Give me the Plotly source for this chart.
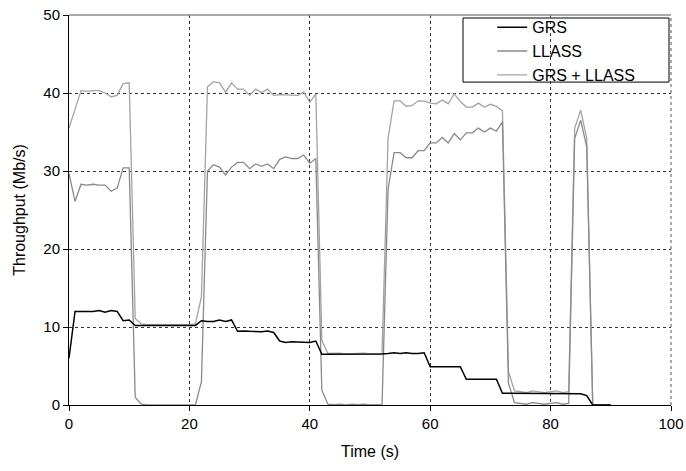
import plotly.graph_objects as go

time_s = list(range(0, 91))

grs = [6.0, 12.0, 12.0, 12.0, 12.0, 12.1, 11.9, 12.1, 12.0, 10.8, 10.9, 10.2,
       10.2, 10.2, 10.2, 10.2, 10.2, 10.2, 10.2, 10.2, 10.2,
       10.2, 10.8, 10.7, 10.7, 10.9, 10.7, 10.9, 9.45, 9.5, 9.45, 9.45, 9.4, 9.5, 9.3,
       8.2, 8.0, 8.1, 8.1, 8.05, 8.0, 8.2,
       6.5, 6.5, 6.55, 6.55, 6.5, 6.5, 6.55, 6.5, 6.5, 6.5, 6.55,
       6.6, 6.7, 6.6, 6.7, 6.6, 6.6, 6.7,
       4.9, 4.9, 4.9, 4.9, 4.9, 4.9,
       3.3, 3.3, 3.3, 3.3, 3.3, 3.3,
       1.5, 1.5, 1.5, 1.5, 1.5, 1.5, 1.5, 1.5, 1.5, 1.5, 1.5, 1.5, 1.5, 1.45,
       1.2, 0.0, 0.0, 0.0, 0.0]

llass = [29.7, 26.1, 28.3, 28.2, 28.3, 28.2, 28.2, 27.4, 27.8, 30.4, 30.4, 1.0, 0.1,
         0.0, 0.0, 0.0, 0.0, 0.0, 0.0, 0.0, 0.0, 0.0,
         3.0, 30.0, 30.8, 30.5, 29.5, 30.5, 31.1, 31.1, 30.3, 30.9, 30.6, 30.9, 30.3,
         31.5, 31.8, 31.6, 31.6, 32.05, 31.0, 31.6, 1.9,
         0.1, 0.05, 0.1, 0.0, 0.1, 0.05, 0.1, 0.0, 0.05, 0.0,
         27.6, 32.35, 32.35, 31.7, 31.7, 32.6, 32.6, 33.6, 33.6, 34.3, 33.6, 34.8, 34.0,
         34.9, 34.9, 35.5, 35.0, 35.5, 35.1, 36.3,
         2.8, 0.3,
         0.2, 0.1, 0.3, 0.2, 0.1, 0.2, 0.3, 0.1,
         0.2, 34.2, 36.5, 33.1,
         0.0, 0.0, 0.0, 0.0]

grs_llass = [35.5, 37.9, 40.3, 40.2, 40.3, 40.3, 40.0, 39.5, 39.7, 41.2, 41.3, 11.1, 10.4,
             10.3, 10.3, 10.3, 10.3, 10.3, 10.3, 10.3, 10.3,
             10.4, 13.9, 40.8, 41.45, 41.3, 40.1, 41.3, 40.5, 40.5, 39.7, 40.5, 40.05, 40.5,
             39.7, 39.8, 39.75, 39.7, 39.7, 40.1, 38.8, 39.9, 8.3,
             6.6, 6.6, 6.65, 6.55, 6.6, 6.6, 6.65, 6.55, 6.6, 6.6,
             34.2, 39.0, 39.0, 38.3, 38.4, 39.0, 38.95, 38.7, 38.6, 39.1, 38.6, 39.9, 38.9,
             38.2, 38.2, 38.7, 38.2, 38.55, 38.3, 37.7,
             4.3, 1.8,
             1.7, 1.6, 1.8, 1.7, 1.6, 1.7, 1.8, 1.6, 1.7,
             35.5, 37.8, 34.2,
             0.0, 0.0, 0.0, 0.0]

x_ticks = [0, 20, 40, 60, 80, 100]
y_ticks = [0, 10, 20, 30, 40, 50]

FONT = "Liberation Sans, Arial, sans-serif"

fig = go.Figure()
fig.add_trace(go.Scatter(x=time_s, y=grs_llass, mode="lines", name="GRS + LLASS",
                         line=dict(color="#a3a3a3", width=1.3)))
fig.add_trace(go.Scatter(x=time_s, y=llass, mode="lines", name="LLASS",
                         line=dict(color="#8a8a8a", width=1.3)))
fig.add_trace(go.Scatter(x=time_s, y=grs, mode="lines", name="GRS",
                         line=dict(color="#000000", width=1.5)))

fig.update_layout(
    width=686, height=471,
    margin=dict(l=69, r=15, t=15, b=66, autoexpand=False),
    paper_bgcolor="white", plot_bgcolor="white",
    font=dict(family=FONT, size=15, color="black"),
    showlegend=True,
    legend=dict(x=0.703, y=1.012, xanchor="left", yanchor="top",
                traceorder="reversed", bgcolor="rgba(0,0,0,0)",
                borderwidth=0, font=dict(size=16), tracegroupgap=0),
    xaxis=dict(range=[0, 100], tickvals=x_ticks, showline=True, linecolor="black",
               linewidth=1, ticks="outside", ticklen=5, tickcolor="black",
               showgrid=True, gridcolor="#333333", griddash="dot", gridwidth=1,
               zeroline=False, automargin=False,
               title=dict(text="Time (s)", standoff=14, font=dict(size=16))),
    yaxis=dict(range=[0, 50], tickvals=y_ticks, showline=True, linecolor="black",
               linewidth=1, ticks="outside", ticklen=5, tickcolor="black",
               showgrid=True, gridcolor="#333333", griddash="dot", gridwidth=1,
               zeroline=False, automargin=False,
               title=dict(text="Throughput (Mb/s)", standoff=13, font=dict(size=16))),
    shapes=[
        dict(type="line", xref="paper", yref="paper", x0=0, x1=1, y0=1, y1=1,
             line=dict(color="#8c8c8c", width=1.5)),
        dict(type="line", xref="paper", yref="paper", x0=1, x1=1, y0=0, y1=1,
             line=dict(color="#555555", width=1, dash="dot")),
        dict(type="rect", xref="paper", yref="paper", x0=0.6545, x1=0.9967,
             y0=0.828, y1=0.9923, line=dict(color="black", width=1),
             fillcolor="white", layer="below"),
    ],
)

fig.write_html(
    "out.html",
    config={"displayModeBar": False},
    post_script="document.body.style.margin='0';document.body.style.overflow='hidden';",
)
